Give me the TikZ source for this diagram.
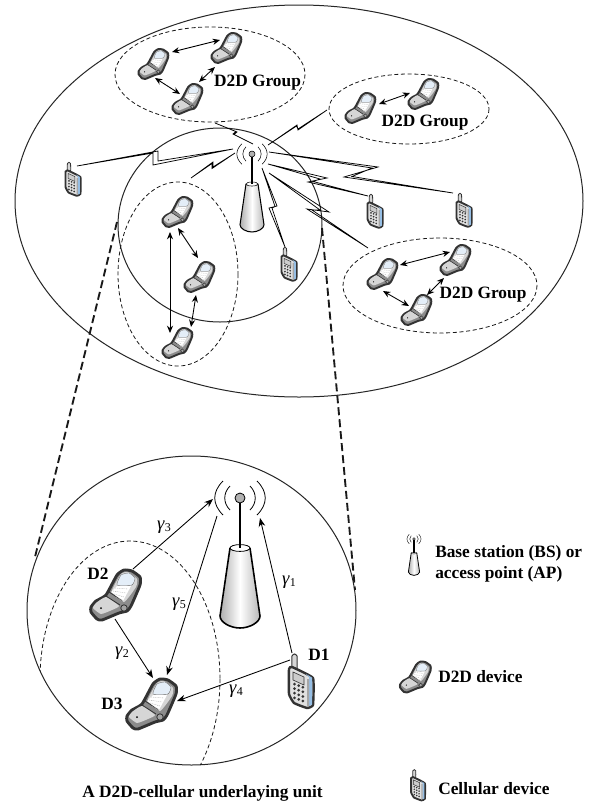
\documentclass[tikz,border=0pt]{standalone}
\usepackage{fontspec}
\setmainfont{Liberation Serif}
\usetikzlibrary{arrows.meta}
\definecolor{lidg}{gray}{0.84}
\definecolor{bodyg}{gray}{0.55}
\definecolor{edgeg}{gray}{0.2}
\definecolor{screenb}{RGB}{228,238,248}
\definecolor{sideb}{RGB}{150,190,228}
\tikzset{
  devnode/.style={inner sep=0pt,minimum size=6pt,shape=circle},
  lbl/.style={font=\fontsize{13}{15.5}\selectfont\bfseries,inner sep=0pt},
  gam/.style={font=\fontsize{14}{16}\selectfont,inner sep=0pt},
  outline/.style={line width=0.75pt,black!85},
  dashell/.style={line width=0.6pt,dash pattern=on 3pt off 2pt,black!90},
  zoomline/.style={line width=1.4pt,dash pattern=on 6pt off 3pt,black!90},
  link/.style={line width=0.55pt,black,line join=miter},
  dar/.style={line width=0.65pt,{Stealth[length=5.5pt,width=4.6pt]}-{Stealth[length=5.5pt,width=4.6pt]}},
  sar/.style={line width=0.65pt,-{Stealth[length=6.5pt,width=5pt]}},
  flipphone/.pic={
    \draw[edgeg,fill=bodyg,line width=1.9*\pgflinewidth,line join=round]
      plot[smooth cycle,tension=0.3] coordinates {(-24,12)(-24,17)(-18,24)(-13,25)(4,18)(12,16)(16,11)(25,-10)(25,-18)(17,-24)(9,-25)(2,-20)(-9,0)(-19,6)};
    \fill[lidg] plot[smooth cycle,tension=0.3] coordinates {(-22,13)(-19,8)(-9,2)(4,11)(-3,15)(-14,19)};
    \fill[lidg] plot[smooth cycle,tension=0.3] coordinates {(-3,-4)(6,-21)(13,-23)(22,-16)(21,-8)(9,7)};
    \draw[edgeg] (-9,1)--(5,10) (-6,-3)--(8,6);
    \fill[white] (2,-9)--(16,-9)--(8,6)--(-4,-3)--cycle;
    \draw[black!35,line width=.7*\pgflinewidth,dash pattern=on .7pt off .7pt]
      (0,-7)--(13,-6) (-2,-4)--(11,-2) (-1,-1)--(9,2) (1,2)--(8,5);
    \draw[edgeg!70,fill=screenb,line width=.7*\pgflinewidth] plot[smooth cycle,tension=0.3] coordinates {(2,-10)(6,-20)(14,-22)(20,-17)(17,-10)};
    \draw[edgeg,fill=bodyg!80] (9,13) circle (3.2);
    \fill[black] (-14,13) circle (1);
  },
  cellphone/.pic={
    \draw[edgeg,fill=lidg,line width=1.3*\pgflinewidth] plot[smooth cycle,tension=0.3] coordinates {(-9,-13)(-9,-25)(-6.5,-27)(-4,-25)(-4,-12)};
    \draw[edgeg,fill=black!12,line width=2*\pgflinewidth] plot[smooth cycle,tension=0.2] coordinates {(-12,-12)(-9,-14)(12,-3)(12,24)(6,27)(-7,22)(-12,13)};
    \fill[sideb] (5,-7)--(11.2,-3.3)--(11.2,23.6)--(8,25.1)--(8,-4)--cycle;
    \fill[black!35] (6,26)--(8,25.1)--(8,-2)--(6,-2)--cycle;
    \draw[edgeg,fill=black!20,line width=\pgflinewidth] (-8,-9)--(3,-4)--(3,4)--(-8,-1)--cycle;
    \foreach \r in {0,1,2,3}{\foreach \c in {0,1,2}{
      \fill[black!80] (-6.5+\c*4.2,3+\r*4.6+\c*1.6) circle (1.5);}}
  },
  basestation/.pic={
    \draw[black,fill=black!30] (0,0) circle (5);
    \draw[line width=1.7*\pgflinewidth] (0,5)--(0,50);
    \draw (-17,-17)..controls (-28,-6) and (-28,6)..(-17,17);
    \draw (17,-17)..controls (28,-6) and (28,6)..(17,17);
    \draw (-10,-12)..controls (-17,-5) and (-17,5)..(-10,12);
    \draw (10,-12)..controls (17,-5) and (17,5)..(10,12);
    \shade[left color=black!32,right color=black!28,middle color=white]
      (-10,50)--(-20,118)..controls (-20,124) and (-10,130)..(0,130)..controls (10,130) and (20,124)..(20,118)--(10,50)..controls (10,46) and (-10,46)..(-10,50)--cycle;
    \draw[black,line width=1.4*\pgflinewidth]
      (-10,50)--(-20,118)..controls (-20,124) and (-10,130)..(0,130)..controls (10,130) and (20,124)..(20,118)--(10,50);
    \draw[black,fill=white] (0,50) ellipse (10 and 3.4);
    \draw[line width=1.7*\pgflinewidth] (0,45)--(0,50);
  }
}
\newcommand\flipat[5]{\node[devnode] (#1) at (#2,#3) {};\pic[scale=#4,line width=#5] at (#1) {flipphone};}
\newcommand\cellat[5]{\node[devnode] (#1) at (#2,#3) {};\pic[scale=#4,line width=#5] at (#1) {cellphone};}
\newcommand\bsat[5]{\node[devnode] (#1) at (#2,#3) {};\pic[scale=#4,line width=#5] at (#1) {basestation};}
\newcommand\gsym[1]{\textit{γ}\raisebox{-.25ex}{\fontsize{9}{10}\selectfont #1}}
\begin{document}
\begin{tikzpicture}[x=0.75pt,y=-0.75pt]
\useasboundingbox (0,0) rectangle (596,804);
\fill[white] (0,0) rectangle (596,804);
% --- large regions
\draw[outline] (299,201) ellipse (284 and 196);
\draw[outline] (220,225) ellipse (102 and 97);
\draw[dashell] (210,74.5) ellipse (95 and 47.5);
\draw[dashell] (409,109) ellipse (80 and 35);
\draw[dashell] (440,285.5) ellipse (97 and 47.5);
\draw[dashell] (178,274) ellipse (60 and 92);
\draw[outline] (191.5,610.5) ellipse (164.5 and 154.5);
\begin{scope}
  \clip (191.5,610.5) ellipse (164.5 and 154.5);
  \draw[dashell] (130,679) ellipse (90 and 138);
\end{scope}
% --- zoom lines
\coordinate (zl1) at (117,222);
\coordinate (zl2) at (35,557);
\coordinate (zr1) at (322,228);
\coordinate (zr2) at (355,590);
\draw[zoomline] (zl1) -- (zl2);
\draw[zoomline] (zr1) -- (zr2);
% --- devices
\bsat{bs}{252}{154}{0.6}{0.4pt}
\flipat{ga}{153}{64}{0.6}{0.4pt}
\flipat{gb}{226}{48}{0.6}{0.4pt}
\flipat{gc}{187}{99}{0.6}{0.4pt}
\flipat{ra}{360}{108}{0.6}{0.4pt}
\flipat{rb}{423}{94}{0.6}{0.4pt}
\flipat{la}{382}{274}{0.6}{0.4pt}
\flipat{lb}{455}{260}{0.6}{0.4pt}
\flipat{lc}{416}{310}{0.6}{0.4pt}
\flipat{ma}{177}{212}{0.6}{0.4pt}
\flipat{mb}{199}{277}{0.6}{0.4pt}
\flipat{mc}{177}{343}{0.6}{0.4pt}
\cellat{ca}{73}{179}{0.62}{0.35pt}
\cellat{cb}{289}{264}{0.62}{0.35pt}
\cellat{cc}{375}{211}{0.62}{0.35pt}
\cellat{cd}{464}{210}{0.62}{0.35pt}
\bsat{bbs}{240}{498}{1}{0.6pt}
\flipat{dtwo}{115}{595}{1}{0.6pt}
\flipat{dthree}{151}{704}{1}{0.6pt}
\cellat{done}{301}{681}{1}{0.45pt}
\bsat{kbs}{414}{539}{0.28}{0.3pt}
\flipat{kd}{415}{677}{0.62}{0.4pt}
\cellat{kc}{418}{785}{0.57}{0.35pt}
% --- radio links
\coordinate (fg1) at (191,178);
\coordinate (fg2) at (215,123);
\coordinate (fg3) at (327,110);
\coordinate (fg4) at (368,248);
\draw[link] ([shift={(4,-13)}]ca.center)--(158,151)--(158,161)--([shift={(-19,-5)}]bs.center)--(153,165)--(153,153)--cycle;
\draw[link] (fg1)--(213,162)--(213,167)--([shift={(-17,-1)}]bs.center)--(212,168.5)--(212,163.5)--cycle;
\draw[link] (fg2)--(237,132)--(234,134.5)--([shift={(1,-10)}]bs.center)--(233,134)--(236,131.5)--cycle;
\draw[link] ([shift={(16,-9)}]bs.center)--(297,125)--(298,130)--(fg3)--(298,129)--(296.5,126)--cycle;
\draw[link] ([shift={(17,-2)}]bs.center)--(378,167)--(344,177)--([shift={(-11,-17)}]cd.center)--(352,176.5)--(372,168)--cycle;
\draw[link] ([shift={(16,10)}]bs.center)--(327,178)--(308,182)--([shift={(-7,-15)}]cc.center)--(313,181.5)--(320,179)--cycle;
\draw[link] ([shift={(17,19)}]bs.center)--(329,212)--(307,209)--(fg4)--(312,210)--(320,210)--cycle;
\draw[link] ([shift={(10,14)}]bs.center)--(277,206)--(269,208)--([shift={(-4,-17)}]cb.center)--(272,208)--(275,206.5)--cycle;
% --- D2D links
\draw[dar] ([shift={(19,-12)}]ga.center)--([shift={(-6,-8)}]gb.center);
\draw[dar] ([shift={(2,14)}]ga.center)--([shift={(-7,-5)}]gc.center);
\draw[dar] ([shift={(12,-17)}]gc.center)--([shift={(-11,19)}]gb.center);
\draw[dar] ([shift={(19,-4)}]ra.center)--([shift={(-13,-1)}]rb.center);
\draw[dar] ([shift={(18,-9)}]la.center)--([shift={(-5,-8)}]lb.center);
\draw[dar] ([shift={(1,17)}]la.center)--([shift={(-7,-4)}]lc.center);
\draw[dar] ([shift={(11,-15)}]lc.center)--([shift={(-11,18)}]lb.center);
\draw[dar] ([shift={(-7,20)}]ma.center)--([shift={(-7,-10)}]mc.center);
\draw[dar] ([shift={(1,16)}]ma.center)--([shift={(-1,-19)}]mb.center);
\draw[dar] ([shift={(-3,18)}]mb.center)--([shift={(14,-16)}]mc.center);
% --- unit links
\draw[sar] ([shift={(18,-26)}]dtwo.center)--([shift={(-27,1)}]bbs.center);
\draw[sar] ([shift={(0,24)}]dtwo.center)--([shift={(2,-26)}]dthree.center);
\draw[sar] ([shift={(-23,18)}]bbs.center)--([shift={(16,-29)}]dthree.center);
\draw[sar] ([shift={(-9,-28)}]done.center)--([shift={(20,20)}]bbs.center);
\draw[sar] ([shift={(-11,-21)}]done.center)--([shift={(26,-3)}]dthree.center);
% --- labels
\node[lbl] (t1) at (257.5,83) {D2D Group};
\node[lbl] (t2) at (425,123) {D2D Group};
\node[lbl] (t3) at (483,295) {D2D Group};
\node[lbl] (t4) at (98,574) {D2};
\node[lbl] (t5) at (319,655) {D1};
\node[lbl] (t6) at (112,704) {D3};
\node[gam] (g1) at (289,582) {\gsym{1}};
\node[gam] (g2) at (122,653) {\gsym{2}};
\node[gam] (g3) at (164,527) {\gsym{3}};
\node[gam] (g4) at (236,691) {\gsym{4}};
\node[gam] (g5) at (179,604) {\gsym{5}};
\node[lbl] (t7) at (202.5,793) {A D2D-cellular underlaying unit};
\node[lbl,anchor=base west] (t8) at (435,557) {Base station (BS) or};
\node[lbl,anchor=base west] (t9) at (435,578) {access point (AP)};
\node[lbl,anchor=base west] (t10) at (438,682) {D2D device};
\node[lbl,anchor=base west] (t11) at (438,794) {Cellular device};
\end{tikzpicture}
\end{document}
